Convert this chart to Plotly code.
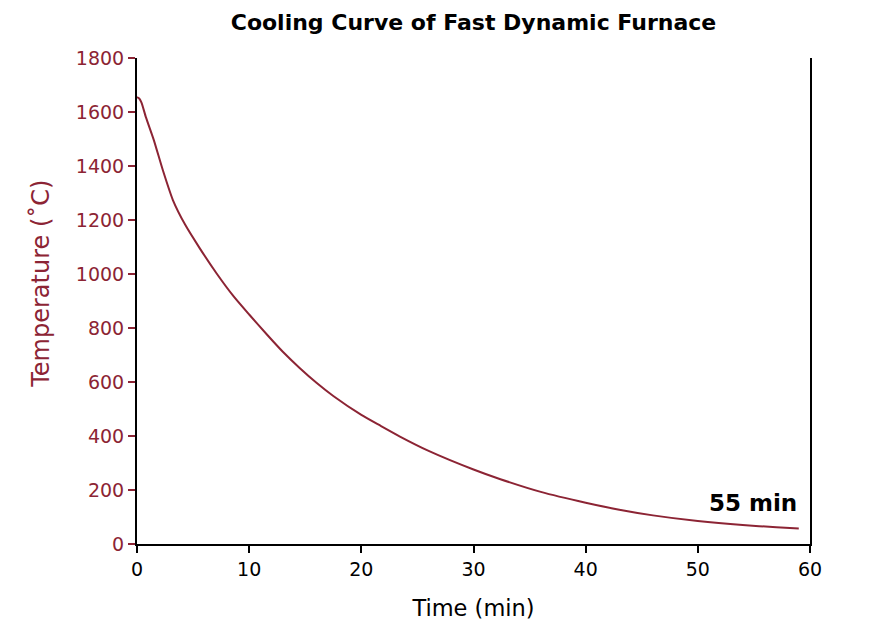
import plotly.graph_objects as go

# Data
time_min = [0, 0.2, 0.4, 0.8, 1.5, 2.3, 3.2, 4.3, 5.6, 7.1, 8.6, 10, 11.6, 13, 14.5, 16, 17.5, 20, 21.7, 23.4, 26, 30, 32.4, 36, 40, 43, 46, 50, 54, 57, 59]
temperature_c = [1655, 1650, 1635, 1580, 1496, 1385, 1274, 1182, 1095, 1002, 918, 850, 775, 712, 652, 597, 548, 478, 438, 399, 345, 276, 240, 193, 153, 127, 106, 85, 70, 62, 57]

x_ticks = [0, 10, 20, 30, 40, 50, 60]
y_ticks = [0, 200, 400, 600, 800, 1000, 1200, 1400, 1600, 1800]

RED = "#8c2434"
FONT = "DejaVu Sans"

fig = go.Figure()
fig.add_trace(go.Scatter(
    x=time_min, y=temperature_c, mode="lines",
    line=dict(color=RED, width=2, shape="spline", smoothing=0.6),
    showlegend=False, hoverinfo="skip",
))

fig.add_annotation(
    x=59, y=152, xref="x", yref="y",
    text="<b>55 min</b>", showarrow=False,
    xanchor="right", yanchor="middle",
    font=dict(family=FONT, size=23, color="black"),
)

# y-axis title placed as rotated text, slightly above plot centre like the reference
fig.add_annotation(
    x=-0.143, y=0.535, xref="paper", yref="paper",
    text="Temperature (˚C)", showarrow=False, textangle=-90,
    xanchor="center", yanchor="middle",
    font=dict(family=FONT, size=24, color=RED),
)

fig.update_layout(
    width=879, height=629,
    margin=dict(l=129, r=77, t=50, b=93),
    paper_bgcolor="white", plot_bgcolor="white",
    title=dict(text="<b>Cooling Curve of Fast Dynamic Furnace</b>",
               x=0.5, xref="paper", xanchor="center",
               y=0.978, yref="container", yanchor="middle",
               font=dict(family=FONT, size=22, color="black")),
    font=dict(family=FONT),
)

fig.update_xaxes(
    range=[0, 60], tickvals=x_ticks, ticktext=[str(v) for v in x_ticks],
    showgrid=False, zeroline=False,
    showline=True, linecolor="black", linewidth=2,
    ticks="outside", ticklen=7, tickwidth=2, tickcolor="black",
    tickfont=dict(family=FONT, size=19, color="black"),
    title=dict(text="Time (min)", font=dict(family=FONT, size=22.5, color="black"), standoff=21),
)
fig.update_yaxes(
    range=[0, 1800], tickvals=y_ticks, ticktext=[str(v) for v in y_ticks],
    showgrid=False, zeroline=False,
    showline=True, linecolor="black", linewidth=2, mirror=True,
    ticks="outside", ticklen=7, tickwidth=2, tickcolor=RED,
    tickfont=dict(family=FONT, size=19, color=RED),
)

fig.write_html("out.html")
